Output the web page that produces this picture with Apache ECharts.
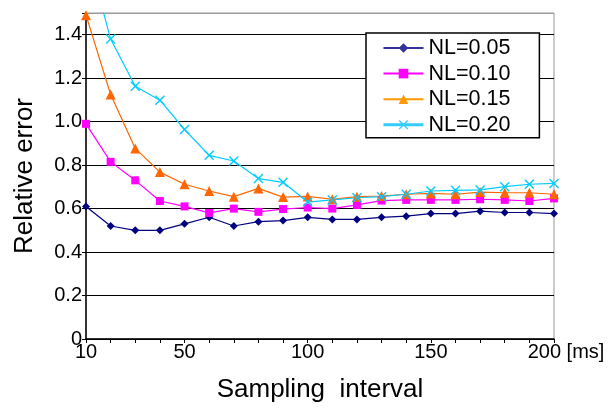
<!DOCTYPE html>
<html>
<head>
<meta charset="utf-8">
<script src="https://cdn.jsdelivr.net/npm/echarts@6/dist/echarts.min.js"></script>
<style>
  html, body { margin: 0; padding: 0; background: #fff; }
  #chart { width: 611px; height: 408px; }
</style>
</head>
<body>
<div id="chart"></div>
<script>
// sampling interval [ms]
const intervals = [10, 20, 30, 40, 50, 60, 70, 80, 90, 100, 110, 120, 130, 140, 150, 160, 170, 180, 190, 200];
const xLabels = [10, 50, 100, 150, 200];

// relative error per noise level
const nl05 = [0.61, 0.52, 0.50, 0.50, 0.53, 0.56, 0.52, 0.54, 0.545, 0.56, 0.55, 0.55, 0.56, 0.565, 0.577, 0.577, 0.588, 0.582, 0.582, 0.577];
const nl10 = [0.99, 0.815, 0.73, 0.635, 0.61, 0.58, 0.60, 0.585, 0.598, 0.605, 0.60, 0.617, 0.637, 0.64, 0.64, 0.64, 0.643, 0.64, 0.635, 0.647];
const nl15 = [1.49, 1.125, 0.877, 0.768, 0.712, 0.681, 0.655, 0.693, 0.653, 0.656, 0.643, 0.655, 0.658, 0.666, 0.67, 0.666, 0.676, 0.673, 0.673, 0.666];
const nl20 = [1.8, 1.38, 1.163, 1.099, 0.964, 0.845, 0.819, 0.738, 0.721, 0.63, 0.64, 0.65, 0.655, 0.666, 0.681, 0.684, 0.686, 0.701, 0.712, 0.716];

const names = ['NL=0.05', 'NL=0.10', 'NL=0.15', 'NL=0.20'];

// X marker drawn as a thin filled cross
const crossPath = 'path://M0,1 L1,0 L5,4 L9,0 L10,1 L6,5 L10,9 L9,10 L5,6 L1,10 L0,9 L4,5 Z';

function pairs(ys) {
  return intervals.map((x, i) => [x, ys[i]]);
}

const font = 'Liberation Sans, Arial, sans-serif';
const chart = echarts.init(document.getElementById('chart'), null, { renderer: 'canvas' });

function lineSeries(name, ys, color, symbol, size) {
  return {
    name: name,
    type: 'line',
    data: pairs(ys),
    symbol: symbol,
    symbolSize: size,
    clip: true,
    color: color,
    lineStyle: { color: color, width: 1.2 },
    itemStyle: { color: color },
    emphasis: { disabled: true },
    animation: false
  };
}

const option = {
  backgroundColor: '#fff',
  animation: false,
  textStyle: { fontFamily: font },
  grid: {
    left: 86, right: 57, top: 13, bottom: 68,
    show: true, borderColor: '#999', borderWidth: 1, backgroundColor: 'transparent'
  },
  legend: {
    orient: 'vertical',
    left: 366, top: 33,
    padding: [4, 29, 2, 16],
    itemWidth: 40, itemHeight: 12, itemGap: 3.6,
    backgroundColor: '#fff',
    borderColor: '#000', borderWidth: 1.5,
    textStyle: { fontSize: 21.5, color: '#000', lineHeight: 22, fontFamily: font },
    data: [
      { name: names[0], itemStyle: { color: '#333399' }, lineStyle: { color: '#333399', width: 2 } },
      { name: names[1], itemStyle: { color: '#FF00FF' }, lineStyle: { color: '#FF00FF', width: 2 } },
      { name: names[2], itemStyle: { color: '#FF9900' }, lineStyle: { color: '#FF9900', width: 2 } },
      { name: names[3], itemStyle: { color: '#33CCFF' }, lineStyle: { color: '#33CCFF', width: 3 } }
    ]
  },
  xAxis: {
    type: 'value',
    min: 10, max: 200, interval: 10,
    name: 'Sampling  interval',
    nameLocation: 'middle',
    nameGap: 38,
    nameTextStyle: { fontSize: 26, color: '#000', fontFamily: font },
    axisLine: { show: true, lineStyle: { color: '#000', width: 1.5 } },
    axisTick: { show: true, length: 4, lineStyle: { color: '#000' } },
    splitLine: { show: false },
    axisLabel: {
      margin: 3,
      fontSize: 20,
      color: '#000',
      fontFamily: font,
      showMinLabel: true, showMaxLabel: true,
      formatter: function (v) {
        if (v === 200) return '{ms|200 [ms]}';
        return xLabels.indexOf(v) >= 0 ? String(v) : '';
      },
      rich: { ms: { fontSize: 20, color: '#000', padding: [0, 0, 0, 24], fontFamily: font } }
    }
  },
  yAxis: {
    type: 'value',
    min: 0, max: 1.5, interval: 0.2,
    name: 'Relative error',
    nameLocation: 'middle',
    nameGap: 48,
    nameTextStyle: { fontSize: 26, color: '#000', fontFamily: font },
    axisLine: { show: true, lineStyle: { color: '#000', width: 1.5 } },
    axisTick: { show: true, length: 4, lineStyle: { color: '#000' } },
    splitLine: {
      show: true,
      lineStyle: { color: ['#000', '#000', '#000', '#000', '#000', '#000', '#000', '#000', '#999'], width: 1 }
    },
    axisLabel: {
      margin: 4,
      fontSize: 20,
      color: '#000',
      fontFamily: font,
      formatter: function (v) {
        if (v > 1.45) return '';
        return v === 0 ? '0' : v.toFixed(1);
      }
    }
  },
  series: [
    lineSeries(names[0], nl05, '#000080', 'diamond', 8),
    lineSeries(names[1], nl10, '#FF00FF', 'rect', 8),
    lineSeries(names[2], nl15, '#FF6600', 'triangle', 10),
    lineSeries(names[3], nl20, '#00CCFF', crossPath, 10)
  ]
};

chart.setOption(option);
</script>
</body>
</html>
